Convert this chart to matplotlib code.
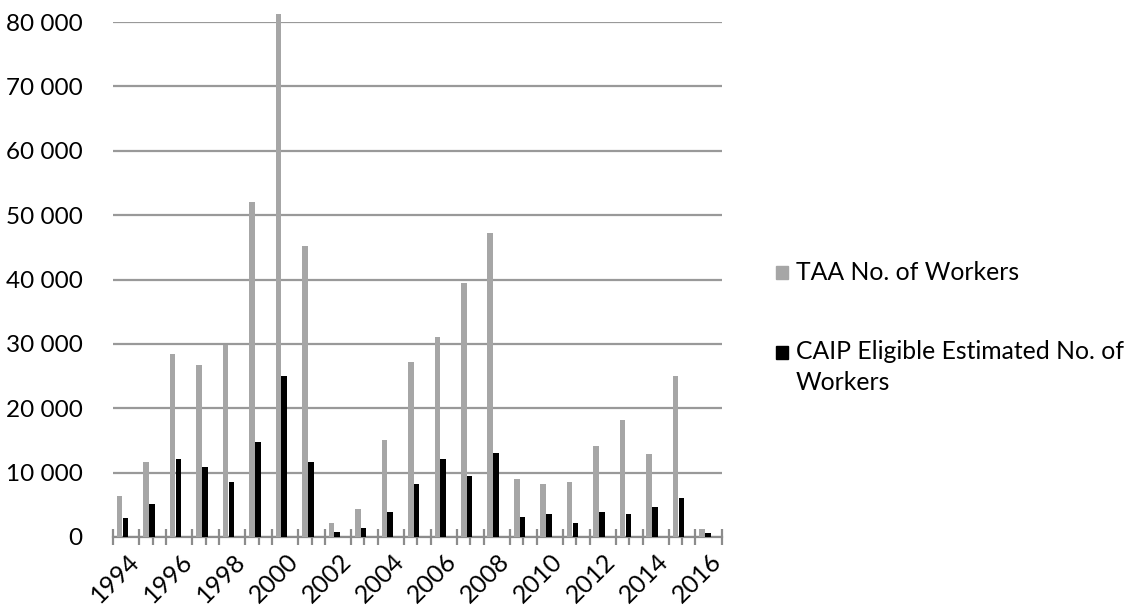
import numpy as np
import matplotlib
matplotlib.use("Agg")
import matplotlib.pyplot as plt
import matplotlib.transforms as mtransforms
from matplotlib.ticker import FuncFormatter

years = list(range(1994, 2017))
taa_workers = [6400, 11700, 28500, 26700, 29800, 52100, 81300, 45200, 2100, 4300,
               15100, 27200, 31000, 39500, 47300, 9000, 8200, 8600, 14200, 18100,
               12900, 25000, 1250]
caip_workers = [3000, 5200, 12100, 10800, 8600, 14700, 25000, 11700, 800, 1350,
                3850, 8200, 12100, 9500, 13000, 3050, 3500, 2100, 3900, 3500,
                4700, 6000, 650]

plt.rcParams['font.family'] = ['Lato', 'DejaVu Sans']

fig = plt.figure(figsize=(11.33, 6.13), dpi=100)
ax = fig.add_axes([0.0997, 0.124, 0.5375, 0.840])

x = np.arange(len(years))
w = 0.21
ax.bar(x - 0.25, taa_workers, width=w, color='#a6a6a6', clip_on=False, zorder=3)
ax.bar(x - 0.03, caip_workers, width=w, color='black', clip_on=False, zorder=3)

ax.set_xlim(-0.5, len(years) - 0.5)
ax.set_ylim(0, 80000)
ax.set_yticks(np.arange(0, 80001, 10000))
ax.yaxis.set_major_formatter(FuncFormatter(lambda v, p: f"{int(v):,}".replace(",", " ")))
ax.grid(axis='y', color='#999999', linewidth=1.6, zorder=0)
ax.tick_params(axis='y', length=0, labelsize=17.5, pad=22)

for s in ['left', 'right', 'top']:
    ax.spines[s].set_visible(False)
ax.spines['bottom'].set_color('#8c8c8c')
ax.spines['bottom'].set_linewidth(1.6)

label_pos = [i for i, y in enumerate(years) if y % 2 == 0]
ax.set_xticks(label_pos)
ax.set_xticklabels([str(years[i]) for i in label_pos], rotation=45, ha='right',
                   rotation_mode='anchor', fontsize=18)
ax.tick_params(axis='x', which='major', length=0, pad=9)
shift = mtransforms.ScaledTranslation(1 / 100, 0, fig.dpi_scale_trans)
for lbl in ax.get_xticklabels():
    lbl.set_transform(lbl.get_transform() + shift)
ax.set_xticks(np.arange(-0.5, len(years), 0.5), minor=True)
ax.tick_params(axis='x', which='minor', direction='inout', length=12,
               width=1.6, color='#8c8c8c')

# legend drawn by hand
fig.patches.append(plt.Rectangle((776 / 1133, 1 - 279 / 613), 12 / 1133, 13 / 613,
                                 transform=fig.transFigure, color='#a6a6a6'))
fig.text(796 / 1133, 1 - 272 / 613, "TAA No. of Workers", fontsize=17.8, va='center')
fig.patches.append(plt.Rectangle((776 / 1133, 1 - 359 / 613), 12 / 1133, 13 / 613,
                                 transform=fig.transFigure, color='black'))
fig.text(796 / 1133, 1 - 352 / 613, "CAIP Eligible Estimated No. of", fontsize=17.8, va='center')
fig.text(796 / 1133, 1 - 383 / 613, "Workers", fontsize=17.8, va='center')

fig.savefig("out.png", dpi=100)
